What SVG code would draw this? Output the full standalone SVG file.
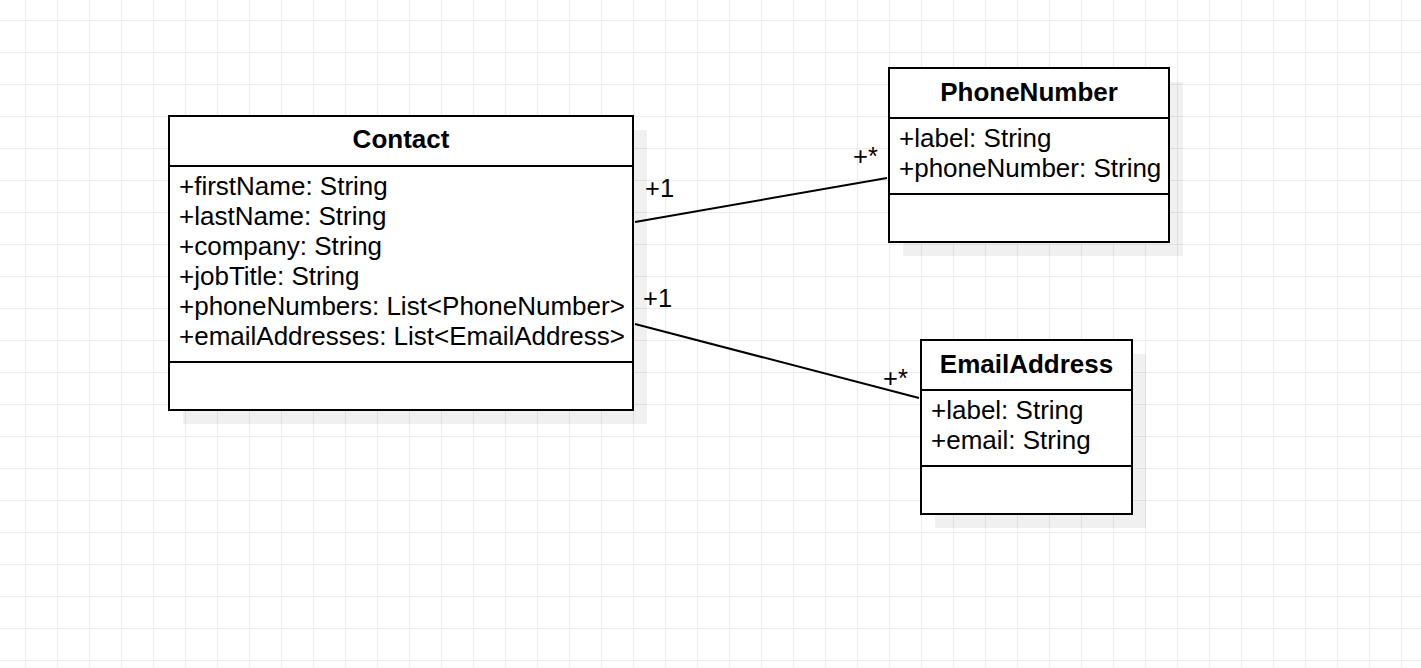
<svg xmlns="http://www.w3.org/2000/svg" width="1421" height="668" viewBox="0 0 1421 668">
<style>
.box{fill:#fff;stroke:#000;stroke-width:2}
.sep{stroke:#000;stroke-width:2}
.shadow{fill:#000;fill-opacity:0.06}
.title{font-family:"Liberation Sans",Arial,sans-serif;font-size:26px;font-weight:bold;text-anchor:middle;fill:#000}
.attr{font-family:"Liberation Sans",Arial,sans-serif;font-size:26px;fill:#000}
.lbl{font-family:"Liberation Sans",Arial,sans-serif;font-size:25.5px;fill:#000}
.conn{stroke:#000;stroke-width:2;fill:none}
</style>
<defs>
<pattern id="grid" x="25" y="20" width="32" height="32" patternUnits="userSpaceOnUse">
<path d="M0.5 0V32M0 0.5H32" stroke="#ececec" stroke-width="1" fill="none"/>
</pattern>
</defs>
<rect width="1421" height="668" fill="#fff"/>
<rect width="1421" height="668" fill="url(#grid)"/>
<g id="connectors">
<line class="conn" x1="635" y1="222" x2="887" y2="178"/>
<line class="conn" x1="635" y1="324" x2="919" y2="398"/>
<text class="lbl" x="645" y="197">+1</text>
<text class="lbl" x="853" y="165">+*</text>
<text class="lbl" x="643" y="307">+1</text>
<text class="lbl" x="883" y="387">+*</text>
</g>
<g id="Contact">
<rect class="shadow" x="183" y="130" width="464" height="294"/>
<rect class="box" x="169" y="116" width="464" height="294"/>
<line class="sep" x1="169" y1="166" x2="633" y2="166"/>
<line class="sep" x1="169" y1="362" x2="633" y2="362"/>
<text class="title" x="401" y="148">Contact</text>
<text class="attr" x="179" y="195">+firstName: String</text>
<text class="attr" x="179" y="225">+lastName: String</text>
<text class="attr" x="179" y="255">+company: String</text>
<text class="attr" x="179" y="285">+jobTitle: String</text>
<text class="attr" x="179" y="315">+phoneNumbers: List&lt;PhoneNumber&gt;</text>
<text class="attr" x="179" y="345">+emailAddresses: List&lt;EmailAddress&gt;</text>
</g>
<g id="PhoneNumber">
<rect class="shadow" x="903" y="82" width="280" height="174"/>
<rect class="box" x="889" y="68" width="280" height="174"/>
<line class="sep" x1="889" y1="118" x2="1169" y2="118"/>
<line class="sep" x1="889" y1="194" x2="1169" y2="194"/>
<text class="title" x="1029" y="101">PhoneNumber</text>
<text class="attr" x="899" y="147">+label: String</text>
<text class="attr" x="899" y="177">+phoneNumber: String</text>
</g>
<g id="EmailAddress">
<rect class="shadow" x="935" y="354" width="211" height="174"/>
<rect class="box" x="921" y="340" width="211" height="174"/>
<line class="sep" x1="921" y1="390" x2="1132" y2="390"/>
<line class="sep" x1="921" y1="466" x2="1132" y2="466"/>
<text class="title" x="1026.5" y="373">EmailAddress</text>
<text class="attr" x="931" y="419">+label: String</text>
<text class="attr" x="931" y="449">+email: String</text>
</g>
</svg>
